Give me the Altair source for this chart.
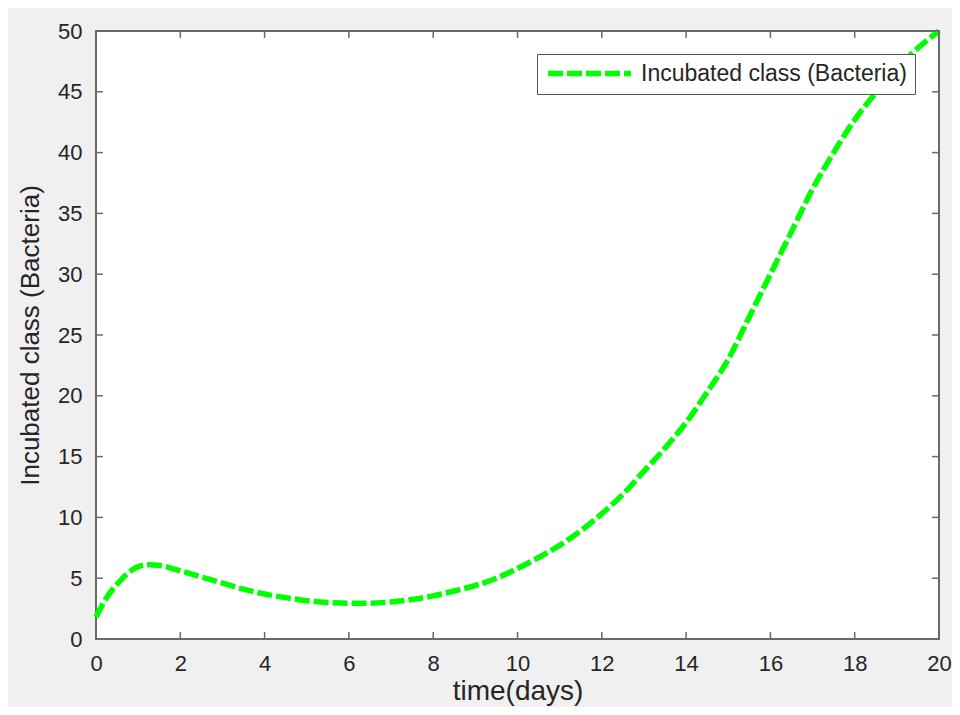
import altair as alt
import pandas as pd

# Curve values
time_days = [0, 0.25, 0.5, 0.75, 1, 1.25, 1.5, 2, 2.5, 3, 3.5, 4, 4.5, 5, 5.5, 6, 6.5,
             7, 7.5, 8, 8.5, 9, 9.5, 10, 10.5, 11, 11.5, 12, 12.5, 13, 13.5, 14, 14.5,
             15, 15.5, 16, 16.5, 17, 17.5, 18, 18.5, 19, 19.5, 20]
incubated = [1.8, 3.4, 4.5, 5.4, 5.95, 6.1, 6.05, 5.6, 5.1, 4.6, 4.1, 3.7, 3.4, 3.15, 3.0,
             2.95, 2.95, 3.05, 3.25, 3.55, 3.95, 4.4, 5.0, 5.8, 6.7, 7.7, 8.9, 10.3, 11.9,
             13.8, 15.7, 17.8, 20.3, 23.0, 26.5, 30.0, 33.5, 37.0, 40.0, 42.7, 44.9, 46.9,
             48.6, 50.0]
series_name = "Incubated class (Bacteria)"
x_ticks = [0, 2, 4, 6, 8, 10, 12, 14, 16, 18, 20]
y_ticks = [0, 5, 10, 15, 20, 25, 30, 35, 40, 45, 50]

W, H = 843, 608
FONT = "Liberation Sans"
TXT = "#262626"
AX = "#6a6a6a"

df = pd.DataFrame({"t": time_days, "v": incubated, "s": [series_name] * len(time_days)})
xt = pd.DataFrame({"t": x_ticks})
yt = pd.DataFrame({"v": y_ticks})

xs = alt.Scale(domain=[0, 20], nice=False, zero=False)
ys = alt.Scale(domain=[0, 50], nice=False, zero=False)

x_axis = alt.Axis(values=x_ticks, ticks=False, domain=False, grid=False,
                  labelFlush=False, labelOverlap=False,
                  labelPadding=14, labelFontSize=22, labelFont=FONT, labelColor=TXT,
                  titleFontSize=28, titleFont=FONT, titleColor=TXT,
                  titleFontWeight="normal", titlePadding=3)
y_axis = alt.Axis(values=y_ticks, ticks=False, domain=False, grid=False,
                  labelFlush=False, labelOverlap=False,
                  labelPadding=14, labelFontSize=22, labelFont=FONT, labelColor=TXT,
                  titleFontSize=26, titleFont=FONT, titleColor=TXT,
                  titleFontWeight="normal", titlePadding=14)
X_TITLE = "time(days)"
Y_TITLE = "Incubated class (Bacteria)"

line = alt.Chart(df).mark_line(strokeWidth=5.5, strokeDash=[15, 4], interpolate="monotone").encode(
    x=alt.X("t:Q", scale=xs, title=X_TITLE, axis=x_axis),
    y=alt.Y("v:Q", scale=ys, title=Y_TITLE, axis=y_axis),
    color=alt.Color("s:N", scale=alt.Scale(range=["#00ff00"]),
                    legend=alt.Legend(title=None, orient="none", legendX=441, legendY=23,
                                      symbolType="stroke", symbolSize=6889,
                                      symbolStrokeWidth=5.5, symbolDash=[15, 4],
                                      clipHeight=23,
                                      labelFontSize=23, labelFont=FONT, labelColor=TXT,
                                      labelOffset=7, labelLimit=500,
                                      fillColor="white", strokeColor="#555555",
                                      padding=8)),
)

tick_len = 7
xb = alt.Chart(xt).mark_rule(color=AX, strokeWidth=1.5).encode(
    x=alt.X("t:Q", scale=xs, title=X_TITLE, axis=x_axis), y=alt.value(H), y2=alt.value(H - tick_len))
xtop = alt.Chart(xt).mark_rule(color=AX, strokeWidth=1.5).encode(
    x=alt.X("t:Q", scale=xs, title=X_TITLE, axis=x_axis), y=alt.value(0), y2=alt.value(tick_len))
yl = alt.Chart(yt).mark_rule(color=AX, strokeWidth=1.5).encode(
    y=alt.Y("v:Q", scale=ys, title=Y_TITLE, axis=y_axis), x=alt.value(0), x2=alt.value(tick_len))
yr = alt.Chart(yt).mark_rule(color=AX, strokeWidth=1.5).encode(
    y=alt.Y("v:Q", scale=ys, title=Y_TITLE, axis=y_axis), x=alt.value(W), x2=alt.value(W - tick_len))

chart = alt.layer(line, xb, xtop, yl, yr).properties(
    width=W, height=H,
    autosize=alt.AutoSizeParams(type="none"),
    padding={"left": 88, "top": 23, "right": 13, "bottom": 68},
    background="#f0f0f0",
).configure_view(fill="white", stroke=AX, strokeWidth=2)

chart.save("out.html", embed_options={"renderer": "svg", "actions": False})
